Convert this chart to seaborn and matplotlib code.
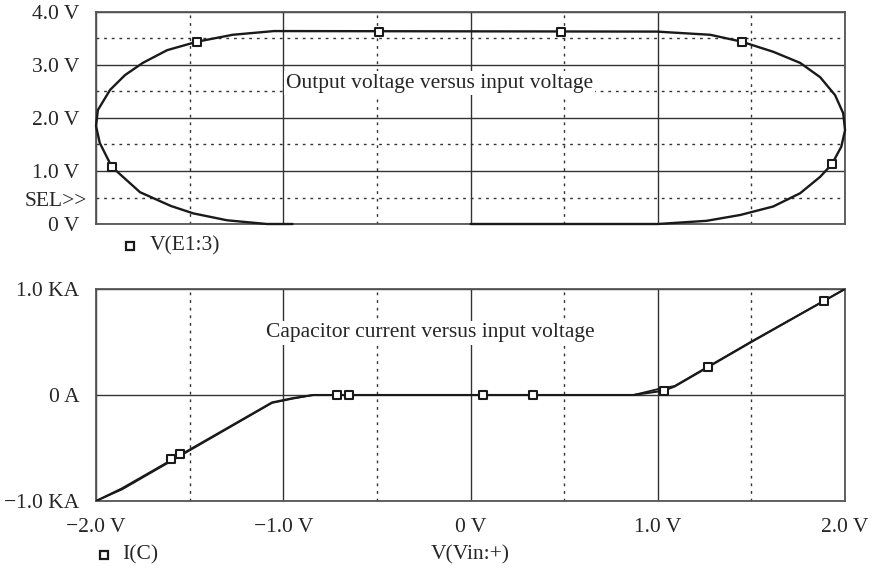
import numpy as np
import pandas as pd
import matplotlib
matplotlib.use('Agg')
import matplotlib.pyplot as plt
import seaborn as sns

sns.set_theme(style='white')
plt.rcParams['font.family'] = ['Liberation Serif', 'DejaVu Serif']

# 上图: V(E1:3) 对 V(Vin:+) 的回线
loop_x = [0.0, 1.0, 1.26, 1.44, 1.616, 1.76, 1.867, 1.93, 1.98, 2.0, 1.99, 1.947,
          1.867, 1.76, 1.616, 1.448, 1.28, 0.995, 0.0, -1.05, -1.27, -1.46, -1.62,
          -1.75, -1.845, -1.925, -1.99, -2.0, -1.98, -1.916, -1.765, -1.6, -1.48,
          -1.3, -1.087, -0.95]
loop_y = [0.0, 0.0, 0.06, 0.17, 0.33, 0.58, 0.89, 1.13, 1.46, 1.77, 2.09, 2.43,
          2.77, 3.04, 3.25, 3.44, 3.57, 3.63, 3.635, 3.64, 3.57, 3.44, 3.28,
          3.04, 2.81, 2.53, 2.15, 1.85, 1.53, 1.08, 0.6, 0.34, 0.2,
          0.07, 0.0, 0.0]
loop_mark_x = [-1.916, -1.46, -0.49, 0.485, 1.448, 1.93]
loop_mark_y = [1.08, 3.44, 3.63, 3.63, 3.44, 1.13]

# 下图: I(C) 对 V(Vin:+)
ic_fwd_x = [-2.0, -1.86, -1.06, -0.95, -0.84, 0.0, 0.87, 1.03, 1.09, 1.5, 2.0]
ic_fwd_y = [-1.0, -0.88, -0.07, -0.03, 0.0, 0.0, 0.0, 0.04, 0.08, 0.50, 1.0]
ic_rev_x = [2.0, 1.5, 1.09, 1.0, 0.87, 0.0, -0.84, -0.95, -1.06, -1.86, -2.0]
ic_rev_y = [1.0, 0.505, 0.085, 0.055, 0.0, 0.0, 0.0, -0.035, -0.075, -0.89, -1.0]
ic_mark_x = [-1.60, -1.55, -0.713, -0.648, 0.066, 0.333, 1.035, 1.266, 1.888]
ic_mark_y = [-0.607, -0.557, 0.0, 0.0, 0.0, 0.0, 0.04, 0.26, 0.887]

x_ticks = [-2, -1, 0, 1, 2]
x_labels = ['\u22122.0 V', '\u22121.0 V', '0 V', '1.0 V', '2.0 V']
top_ticks = [0, 1, 2, 3, 4]
top_labels = ['0 V', '1.0 V', '2.0 V', '3.0 V', '4.0 V']
bot_ticks = [-1, 0, 1]
bot_labels = ['\u22121.0 KA', '0 A', '1.0 KA']

fs = 15.5
line_c = '#1a1a1a'
grid_c = '#333333'

fig = plt.figure(figsize=(8.72, 5.71), dpi=100)
ax1 = fig.add_axes([0.1101, 0.6077, 0.859, 0.3713])
ax2 = fig.add_axes([0.1101, 0.1226, 0.859, 0.3713])


def style_axes(ax):
    for s in ax.spines.values():
        s.set_color('#555555')
        s.set_linewidth(1.3)
    ax.set_xlim(-2, 2)
    ax.set_facecolor('white')
    ax.tick_params(which='major', direction='out', length=7, width=1,
                   color='#555555', labelsize=fs, pad=5)
    ax.tick_params(which='minor', length=0)
    ax.set_axisbelow(True)


# 上图
style_axes(ax1)
ax1.set_ylim(0, 4)
ax1.set_xticks(x_ticks)
ax1.set_xticks([-1.5, -0.5, 0.5, 1.5], minor=True)
ax1.set_yticks(top_ticks)
ax1.set_yticklabels(top_labels)
ax1.set_yticks([0.5, 1.5, 2.5, 3.5], minor=True)
ax1.tick_params(axis='x', which='major', length=0, labelbottom=False)
ax1.grid(which='major', color=grid_c, lw=1.0, ls='-')
ax1.grid(which='minor', color=grid_c, lw=1.0, ls=(0, (2, 3.5)))
sns.lineplot(x=loop_x, y=loop_y, sort=False, estimator=None, ax=ax1,
             color=line_c, lw=1.7, zorder=3)
for ln in ax1.lines:
    ln.set_clip_on(False)
sns.scatterplot(x=loop_mark_x, y=loop_mark_y, ax=ax1, marker='s', s=30,
                facecolor='white', edgecolor=line_c, linewidth=1.5, zorder=4)
ax1.set_xlabel('')
ax1.set_ylabel('')
ax1.text(-0.012, 0.105, 'SEL>>', transform=ax1.transAxes,
         ha='right', va='center', fontsize=fs)
ax1.text(-0.165, 2.66, 'Output voltage versus input voltage', ha='center',
         va='center', fontsize=fs, zorder=5,
         bbox=dict(facecolor='white', edgecolor='none', pad=1.5))
ax1.plot([0.045], [-0.104], marker='s', ms=5.5, mfc='white', mec=line_c,
         mew=1.6, transform=ax1.transAxes, clip_on=False)
ax1.text(0.072, -0.104, 'V(E1:3)', transform=ax1.transAxes, ha='left',
         va='center', fontsize=fs)

# 下图
style_axes(ax2)
ax2.set_ylim(-1, 1)
ax2.set_xticks(x_ticks)
ax2.set_xticklabels(x_labels)
ax2.set_xticks([-1.5, -0.5, 0.5, 1.5], minor=True)
ax2.set_yticks(bot_ticks)
ax2.set_yticklabels(bot_labels)
ax2.grid(which='major', color=grid_c, lw=1.0, ls='-')
ax2.grid(which='minor', axis='x', color=grid_c, lw=1.0, ls=(0, (2, 3.5)))
sns.lineplot(x=ic_fwd_x, y=ic_fwd_y, sort=False, estimator=None, ax=ax2,
             color=line_c, lw=1.5, zorder=3)
sns.lineplot(x=ic_rev_x, y=ic_rev_y, sort=False, estimator=None, ax=ax2,
             color=line_c, lw=1.3, zorder=3)
sns.scatterplot(x=ic_mark_x, y=ic_mark_y, ax=ax2, marker='s', s=30,
                facecolor='white', edgecolor=line_c, linewidth=1.5, zorder=4)
ax2.set_xlabel('')
ax2.set_ylabel('')
ax2.text(-0.213, 0.585, 'Capacitor current versus input voltage', ha='center',
         va='center', fontsize=fs, zorder=5,
         bbox=dict(facecolor='white', edgecolor='none', pad=1.5))
ax2.plot([0.0107], [-0.255], marker='s', ms=5.5, mfc='white', mec=line_c,
         mew=1.6, transform=ax2.transAxes, clip_on=False)
ax2.text(0.035, -0.255, 'I(C)', transform=ax2.transAxes, ha='left',
         va='center', fontsize=fs)
ax2.text(0.5, -0.255, 'V(Vin:+)', transform=ax2.transAxes, ha='center',
         va='center', fontsize=fs)

fig.savefig('out.png', dpi=100)
